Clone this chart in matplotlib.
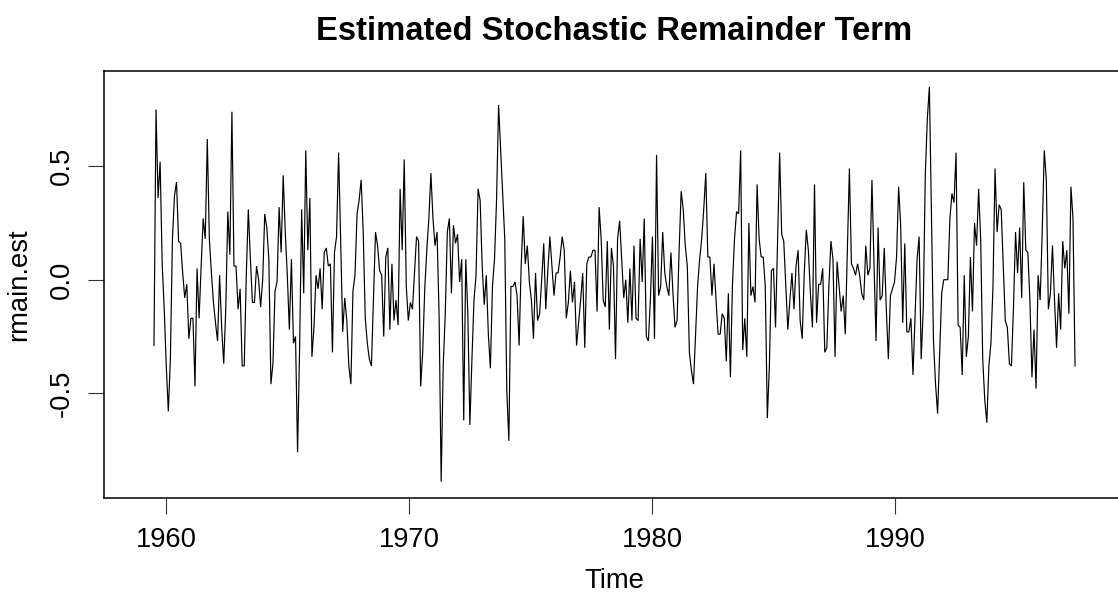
import numpy as np
import matplotlib
matplotlib.use("Agg")
import matplotlib.pyplot as plt

# Estimated stochastic remainder term (monthly), split into consecutive stretches
rmain_est_1959_1965 = [
    -0.29, 0.75, 0.36, 0.52, 0.07, -0.13, -0.38, -0.58, -0.35, 0.18, 0.37, 0.43, 0.17, 0.16, 0.03,
    -0.08, -0.02, -0.26, -0.17, -0.17, -0.47, 0.05, -0.17, 0.06, 0.27, 0.18, 0.62, 0.18, 0.03, -0.10,
    -0.19, -0.27, 0.02, -0.21, -0.37, -0.13, 0.30, 0.11, 0.74, 0.06, 0.06, -0.13, -0.04, -0.38, -0.38,
    0.02, 0.31, 0.09, -0.10, -0.10, 0.06, 0.00, -0.12, 0.00, 0.29, 0.23, 0.09, -0.46, -0.37, -0.05,
    -0.01, 0.32, 0.12, 0.46, 0.21, 0.02, -0.22, 0.09, -0.28, -0.25, -0.76, -0.30, 0.31, -0.06, 0.57,
]
rmain_est_1966_1971 = [
    0.13, 0.36, -0.34, -0.21, 0.02, -0.04, 0.05, -0.13, 0.12, 0.14, 0.06, 0.07, -0.32, 0.12, 0.19,
    0.56, 0.18, -0.23, -0.08, -0.18, -0.38, -0.46, -0.05, 0.02, 0.29, 0.35, 0.44, 0.21, -0.17, -0.28,
    -0.35, -0.38, -0.09, 0.21, 0.15, 0.04, 0.02, -0.25, 0.10, 0.14, -0.22, 0.07, -0.18, -0.09, -0.20,
    0.40, 0.13, 0.53, -0.03, -0.18, -0.10, -0.13, 0.03, 0.19, 0.17, -0.47, -0.32, -0.04, 0.13, 0.27,
    0.47, 0.27, 0.15, 0.21, -0.16, -0.89, -0.38, -0.15, 0.21, 0.27, -0.06, 0.24, 0.16, 0.20, -0.01,
    0.09,
]
rmain_est_1972_1977 = [
    -0.62, 0.09, -0.15, -0.64, -0.35, -0.09, 0.02, 0.40, 0.35, 0.06, -0.11, 0.02, -0.24, -0.39, -0.03,
    0.09, 0.35, 0.77, 0.57, 0.38, 0.18, -0.49, -0.71, -0.03, -0.03, -0.01, -0.07, -0.29, 0.06, 0.28,
    0.07, 0.15, -0.01, -0.09, -0.26, 0.03, -0.18, -0.15, 0.00, 0.16, -0.13, 0.04, 0.19, 0.06, -0.07,
    0.03, 0.03, 0.10, 0.19, 0.13, -0.17, -0.10, 0.04, -0.10, -0.01, -0.29, -0.19, -0.09, 0.03, -0.30,
    0.07, 0.10, 0.10, 0.13, 0.13, -0.14, 0.32, 0.18, -0.09, -0.12, 0.17, -0.22, 0.14, 0.06, -0.35,
    0.18,
]
rmain_est_1978_1984 = [
    0.26, 0.09, -0.08, 0.00, -0.19, 0.05, -0.18, 0.15, -0.17, -0.18, 0.18, -0.01, 0.27, -0.25, -0.27,
    -0.09, 0.19, -0.26, 0.55, -0.07, -0.03, 0.21, 0.03, -0.03, -0.07, 0.12, -0.06, -0.21, -0.18, 0.13,
    0.39, 0.31, 0.15, 0.06, -0.32, -0.40, -0.46, -0.24, -0.03, 0.09, 0.18, 0.31, 0.47, 0.10, 0.10,
    -0.07, 0.07, -0.09, -0.24, -0.24, -0.15, -0.17, -0.36, -0.06, -0.43, -0.02, 0.18, 0.30, 0.29, 0.57,
    -0.31, -0.17, -0.34, 0.25, -0.07, -0.03, -0.10, 0.42, 0.18, 0.10, 0.10, -0.03, -0.61, -0.38, 0.04,
]
rmain_est_1985_1991 = [
    0.05, -0.21, 0.18, 0.56, 0.20, 0.17, -0.03, -0.22, -0.09, 0.03, -0.13, 0.06, 0.13, -0.18, -0.26,
    0.03, 0.22, 0.13, -0.06, -0.21, 0.42, -0.19, -0.02, -0.02, 0.05, -0.32, -0.30, -0.03, 0.17, 0.09,
    -0.34, 0.08, -0.03, -0.14, -0.07, -0.24, 0.13, 0.49, 0.07, 0.05, 0.02, 0.07, 0.02, -0.06, -0.09,
    0.15, 0.02, 0.05, 0.44, 0.07, -0.27, 0.23, -0.09, -0.07, 0.14, -0.13, -0.35, -0.07, -0.04, -0.01,
    0.10, 0.41, 0.24, -0.19, 0.16, -0.23, -0.23, -0.17, -0.42, -0.16, 0.09, 0.19, -0.35, -0.13, 0.46,
    0.71,
]
rmain_est_1991_1997 = [
    0.85, 0.28, -0.27, -0.46, -0.59, -0.32, -0.06, 0.00, 0.00, 0.00, 0.27, 0.38, 0.34, 0.56, -0.20,
    -0.21, -0.42, 0.02, -0.34, -0.25, 0.10, -0.14, 0.25, 0.15, 0.40, 0.18, -0.35, -0.53, -0.63, -0.38,
    -0.28, -0.03, 0.49, 0.21, 0.33, 0.31, 0.06, -0.18, -0.21, -0.37, -0.38, -0.12, 0.21, 0.03, 0.23,
    -0.08, 0.43, 0.13, 0.12, -0.09, -0.43, -0.22, -0.48, 0.02, -0.09, 0.21, 0.57, 0.44, -0.13, -0.06,
    0.15, -0.09, -0.30, -0.06, -0.22, 0.17, 0.05, 0.13, -0.15, 0.41, 0.27, -0.38,
]

# the series spans 1959.0-1997.9; its first and last half year are undefined
ts_start = 1959.0
ts_end = 1997.9
t_first = 1959.5
t_last = 1997.4
x_ticks = [1960, 1970, 1980, 1990]
y_ticks = [-0.5, 0.0, 0.5]
y_tick_labels = ["-0.5", "0.0", "0.5"]

rmain_est = np.array(
    rmain_est_1959_1965 + rmain_est_1966_1971 + rmain_est_1972_1977
    + rmain_est_1978_1984 + rmain_est_1985_1991 + rmain_est_1991_1997
)
time = np.linspace(t_first, t_last, len(rmain_est))

plt.rcParams["font.family"] = ["Liberation Sans", "DejaVu Sans"]

W, H = 1118, 596
fig = plt.figure(figsize=(W / 100, H / 100), dpi=100)
fig.patch.set_facecolor("white")

# plot region in pixels (the right edge of the frame falls just past the canvas)
left_px, right_px, top_px, bottom_px = 104, 1125, 71, 497.5
ax = fig.add_axes([left_px / W, 1 - bottom_px / H,
                   (right_px - left_px) / W, (bottom_px - top_px) / H])

ax.plot(time, rmain_est, color="black", lw=0.85, solid_joinstyle="miter")

# 4 % padding around the full time span and the data range
xpad = 0.04 * (ts_end - ts_start)
ax.set_xlim(ts_start - xpad, ts_end + xpad)
ypad = 0.04 * (rmain_est.max() - rmain_est.min())
ax.set_ylim(rmain_est.min() - ypad, rmain_est.max() + ypad)

ax.set_xticks(x_ticks)
ax.set_xticklabels([str(v) for v in x_ticks])
ax.set_yticks(y_ticks)
ax.set_yticklabels(y_tick_labels, rotation=90, va="center")

ax.tick_params(axis="both", direction="out", length=11.5, width=0.8,
               color="#333333", labelsize=19.7, pad=9.5)
for sp in ax.spines.values():
    sp.set_linewidth(1.1)
    sp.set_color("black")

ax.set_xlabel("Time", fontsize=19.7, labelpad=11)
ax.set_ylabel("rmain.est", fontsize=19.7, labelpad=12)
fig.text(614 / W, 1 - 32 / H, "Estimated Stochastic Remainder Term",
         ha="center", va="center", fontsize=23.6, fontweight="bold")

fig.savefig("out.png", dpi=100, facecolor="white")
